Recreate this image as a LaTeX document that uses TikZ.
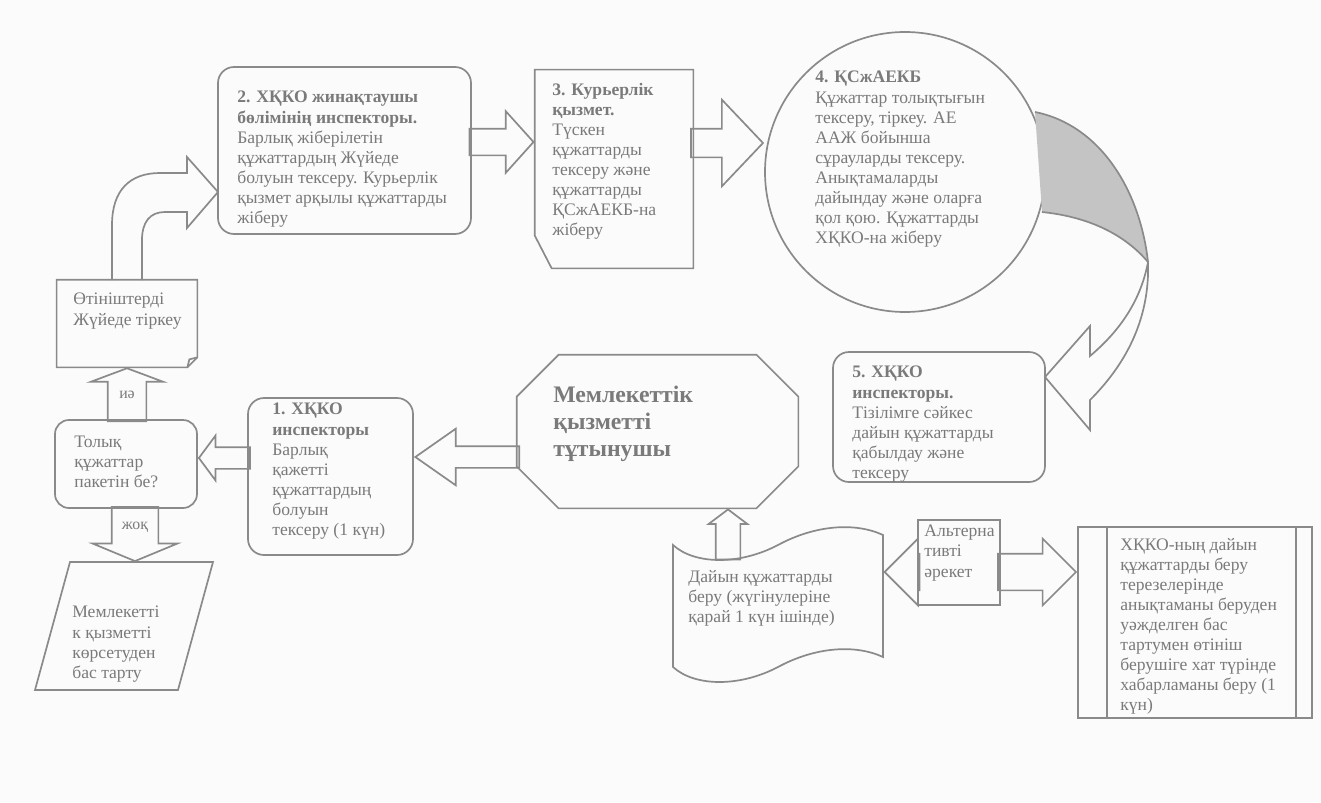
\documentclass[tikz,border=0pt]{standalone}
\usepackage{fontspec}
\setmainfont{Liberation Serif}
\usetikzlibrary{shapes.arrows}
\definecolor{linegray}{HTML}{8A8A8A}
\definecolor{textgray}{HTML}{7A7A7A}
\definecolor{shadegray}{HTML}{C4C4C4}
\newcommand\pxu{0.2mm}
\tikzset{
  ln/.style={draw=linegray,line width=1.7*\pxu},
  box/.style={ln,inner sep=0},
  txt/.style={text=textgray,anchor=north west,inner sep=0,align=left,
    font=\fontsize{10}{11.4}\selectfont},
  fat/.style n args={4}{ln,single arrow,inner xsep=0,inner ysep=#1*\pxu/2,
    single arrow head extend=(#2-#1)/2*\pxu,single arrow tip angle=#3,
    minimum height=#4*\pxu,anchor=tip},
}
\begin{document}
\begin{tikzpicture}[x=0.2mm,y=-0.2mm]
  \path[use as bounding box] (0,0) rectangle (1321,802);
  \fill[gray!3] (0,0) rectangle (1321,802);
  % shapes
  \node[box,rounded corners=16*\pxu,minimum width=253*\pxu,minimum height=167*\pxu] (insp2) at (344.5,150.5) {};
  \node[inner sep=0,minimum width=158*\pxu,minimum height=198*\pxu] (cour3) at (614,169) {};
  \draw[ln] (cour3.north west) -- (cour3.north east) -- (cour3.south east)
    -- ([xshift=17*\pxu]cour3.south west) -- ([yshift=33*\pxu]cour3.south west) -- cycle;
  \node[box,circle,minimum size=280*\pxu] (cent4) at (905,172) {};
  \node[box,rounded corners=16*\pxu,minimum width=212*\pxu,minimum height=130*\pxu] (insp5) at (939,417) {};
  \node[inner sep=0,minimum width=281*\pxu,minimum height=153*\pxu] (user) at (657.5,431.5) {};
  \draw[ln] ([xshift=42*\pxu]user.north west) -- ([xshift=-42*\pxu]user.north east)
    -- ([yshift=-42*\pxu]user.north east) -- ([yshift=42*\pxu]user.south east)
    -- ([xshift=-42*\pxu]user.south east) -- ([xshift=42*\pxu]user.south west)
    -- ([yshift=42*\pxu]user.south west) -- ([yshift=-42*\pxu]user.north west) -- cycle;
  \node[box,rounded corners=16*\pxu,minimum width=165*\pxu,minimum height=157*\pxu] (insp1) at (330.5,476.5) {};
  \node[box,rounded corners=14*\pxu,minimum width=142*\pxu,minimum height=88*\pxu] (check) at (126,464) {};
  \node[inner sep=0,minimum width=140*\pxu,minimum height=87*\pxu] (reg) at (127,323.5) {};
  \draw[ln] (reg.north west) -- (reg.north east) -- ([yshift=10*\pxu]reg.south east)
    -- ([xshift=-10*\pxu]reg.south east) -- (reg.south west) -- cycle;
  \draw[ln] ([xshift=-10*\pxu]reg.south east) -- ([xshift=-8*\pxu,yshift=8*\pxu]reg.south east)
    -- ([yshift=10*\pxu]reg.south east);
  \draw[ln] (70,562) -- (213,562) -- (178,690) -- (35,690) -- cycle;
  \coordinate (rejtop) at (135,562);
  \node[inner sep=0,minimum width=210*\pxu,minimum height=122*\pxu] (ready) at (778,606) {};
  \draw[ln] (673,545) .. controls (695,565) and (740,565) .. (778,545)
    .. controls (815,525) and (855,522) .. (883,535) -- (883,657)
    .. controls (855,644) and (815,647) .. (778,667)
    .. controls (740,687) and (695,687) .. (673,667) -- cycle;
  \node[box,minimum width=234*\pxu,minimum height=191*\pxu] (notice) at (1195,622.5) {};
  \draw[ln] ([xshift=30*\pxu]notice.north west) -- ([xshift=30*\pxu]notice.south west);
  \draw[ln] ([xshift=-17*\pxu]notice.north east) -- ([xshift=-17*\pxu]notice.south east);
  \node[box,minimum width=82*\pxu,minimum height=85*\pxu] (alt) at (959,562.5) {};
  % texts
  \node[txt] (t2) at (237,91) {\textbf{2. ХҚКО жинақтаушы}\\\textbf{бөлімінің инспекторы.}\\Барлық жіберілетін\\құжаттардың Жүйеде\\болуын тексеру. Курьерлік\\қызмет арқылы құжаттарды\\жіберу};
  \node[txt] (t3) at (552,83) {\textbf{3. Курьерлік}\\\textbf{қызмет.}\\Түскен\\құжаттарды\\тексеру және\\құжаттарды\\ҚСжАЕКБ-на\\жіберу};
  \node[txt] (t4) at (815,71) {\textbf{4. ҚСжАЕКБ}\\Құжаттар толықтығын\\тексеру, тіркеу. АЕ\\ААЖ бойынша\\сұрауларды тексеру.\\Анықтамаларды\\дайындау және оларға\\қол қою. Құжаттарды\\ХҚКО-на жіберу};
  \node[txt] (t5) at (852,366) {\textbf{5. ХҚКО}\\\textbf{инспекторы.}\\Тізілімге сәйкес\\дайын құжаттарды\\қабылдау және\\тексеру};
  \node[txt] (t1) at (272,403) {\textbf{1. ХҚКО}\\\textbf{инспекторы}\\Барлық\\қажетті\\құжаттардың\\болуын\\тексеру (1 күн)};
  \node[txt] (tcheck) at (74,436) {Толық\\құжаттар\\пакетін бе?};
  \node[txt] (treg) at (73,293) {Өтініштерді\\Жүйеде тіркеу};
  \node[txt] (trej) at (72,606) {Мемлекетті\\к қызметті\\көрсетуден\\бас тарту};
  \node[txt,font=\fontsize{13.5}{15.2}\selectfont\bfseries] (tuser) at (553,386) {Мемлекеттік\\қызметті\\тұтынушы};
  \node[txt] (tready) at (688,570) {Дайын құжаттарды\\беру (жүгінулеріне\\қарай 1 күн ішінде)};
  \node[txt] (tnotice) at (1120,538) {ХҚКО-ның дайын\\құжаттарды беру\\терезелерінде\\анықтаманы беруден\\уәжделген бас\\тартумен өтініш\\берушіге хат түрінде\\хабарламаны беру (1\\күн)};
  \node[txt] (talt) at (924,525) {Альтерна\\тивті\\әрекет};
  % block arrows
  \node[fat={20}{43}{107}{51},rotate=180] (a1) at (check.east |- 0,458) {};
  \node[fat={20}{55}{70}{104},rotate=180] (a2) at (insp1.east |- 0,457) {};
  \node[fat={37}{70}{139}{53},rotate=90] (a3) at (reg.south) {};
  \node[fat={45}{83}{135}{54},rotate=-90] (a4) at (rejtop) {};
  \node[fat={25}{60}{96}{64}] (a5) at (cour3.west |- 0,142) {};
  \node[fat={27}{85}{93}{72}] (a6) at (cent4.west |- 0,143) {};
  \node[fat={23}{37}{106}{50},rotate=90] (a7) at (728,0 |- user.south) {};
  \node[fat={35}{65}{90}{35},rotate=180] (a8) at (ready.east |- 0,572) {};
  \node[fat={35}{65}{90}{78}] (a9) at (notice.west |- 0,572) {};
  \node[text=textgray,font=\fontsize{9}{10}\selectfont] (yes) at (127,395) {иә};
  \node[text=textgray,font=\fontsize{9}{10}\selectfont] (no) at (135,527) {жоқ};
  % curved arrows
  \draw[ln] (112,280) -- (112,225) .. controls (112,190) and (130,173) .. (160,173)
    -- (187,173) -- (187,157) -- (218,192) -- (187,228) -- (187,212) -- (165,212)
    .. controls (150,212) and (142,222) .. (142,240) -- (142,280);
  \fill[shadegray] (1035,112) .. controls (1100,125) and (1140,190) .. (1148,262)
    .. controls (1125,235) and (1090,217) .. (1042,212) -- cycle;
  \draw[ln] (1035,112) .. controls (1100,125) and (1140,190) .. (1148,262)
    .. controls (1150,320) and (1125,365) .. (1090,400) -- (1090,430) -- (1045,377)
    -- (1090,326) -- (1090,356) .. controls (1115,335) and (1140,305) .. (1148,262);
  \draw[ln] (1148,262) .. controls (1125,235) and (1090,217) .. (1042,212);
\end{tikzpicture}
\end{document}
